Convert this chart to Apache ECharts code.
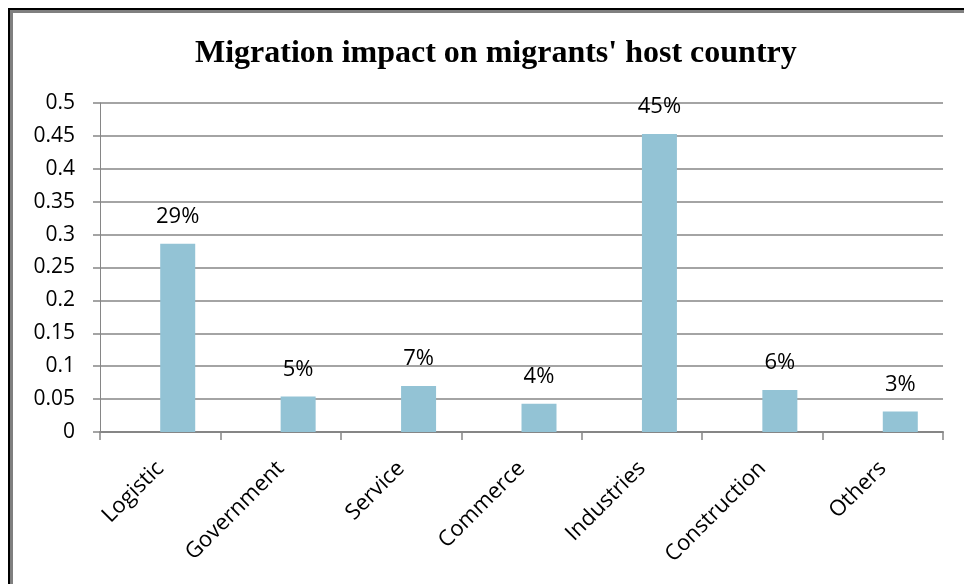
<!DOCTYPE html>
<html>
<head>
<meta charset="utf-8">
<script src="https://cdn.jsdelivr.net/npm/echarts@6/dist/echarts.min.js"></script>
<style>
html,body{margin:0;padding:0;background:#fff;}
#c{width:964px;height:584px;}
</style>
</head>
<body>
<div id="c"></div>
<script>
const titleText = "Migration impact on migrants' host country";
const categories = ["Logistic", "Government", "Service", "Commerce", "Industries", "Construction", "Others"];
const values = [0.286, 0.054, 0.070, 0.043, 0.453, 0.064, 0.031];
const emptySeries = ["-", "-", "-", "-", "-", "-", "-"];
const yTicks = [0, 0.05, 0.1, 0.15, 0.2, 0.25, 0.3, 0.35, 0.4, 0.45, 0.5];

const chart = echarts.init(document.getElementById('c'), null, {renderer: 'canvas'});
chart.setOption({
  animation: false,
  backgroundColor: '#fff',
  title: {
    text: titleText,
    left: 190,
    top: 33,
    textStyle: {fontFamily: 'Liberation Serif', fontWeight: 'bold', fontSize: 32, color: '#000'}
  },
  grid: {left: 100, right: 21, top: 103, bottom: 152},
  xAxis: {
    type: 'category',
    data: categories,
    axisLine: {lineStyle: {color: '#868686', width: 2}},
    axisTick: {show: true, length: 8, lineStyle: {color: '#868686', width: 1.5}},
    axisLabel: {rotate: 45, margin: 33, fontFamily: 'Open Sans', fontSize: 22, color: '#000', interval: 0}
  },
  yAxis: {
    type: 'value',
    min: 0, max: 0.5, interval: 0.05,
    axisLine: {show: true, lineStyle: {color: '#868686', width: 1}},
    axisTick: {show: true, length: 7, lineStyle: {color: '#868686', width: 1.5}},
    splitLine: {lineStyle: {color: '#868686', width: 1.5}},
    axisLabel: {
      margin: 25, fontFamily: 'Open Sans', fontSize: 21, color: '#000',
      formatter: v => { const t = yTicks.find(x => Math.abs(x - v) < 1e-9); return String(t !== undefined ? t : v); }
    }
  },
  series: [
    {
      type: 'bar',
      data: emptySeries,
      barWidth: 35,
      barGap: '0%',
      itemStyle: {color: 'rgba(0,0,0,0)'},
      silent: true
    },
    {
      type: 'bar',
      data: values,
      barWidth: 35,
      barGap: '0%',
      itemStyle: {color: '#93C3D5'},
      label: {
        show: true, position: 'top', distance: 16,
        fontFamily: 'Open Sans', fontSize: 22, color: '#000',
        formatter: p => Math.round(p.value * 100) + '%'
      }
    }
  ],
  graphic: [
    {type: 'rect', shape: {x: 8, y: 8, width: 2, height: 576}, style: {fill: '#000'}, silent: true},
    {type: 'rect', shape: {x: 8, y: 8, width: 956, height: 2}, style: {fill: '#000'}, silent: true},
    {type: 'rect', shape: {x: 10, y: 10, width: 3, height: 574}, style: {fill: '#808080'}, silent: true},
    {type: 'rect', shape: {x: 10, y: 10, width: 954, height: 3}, style: {fill: '#808080'}, silent: true}
  ]
});
</script>
</body>
</html>
